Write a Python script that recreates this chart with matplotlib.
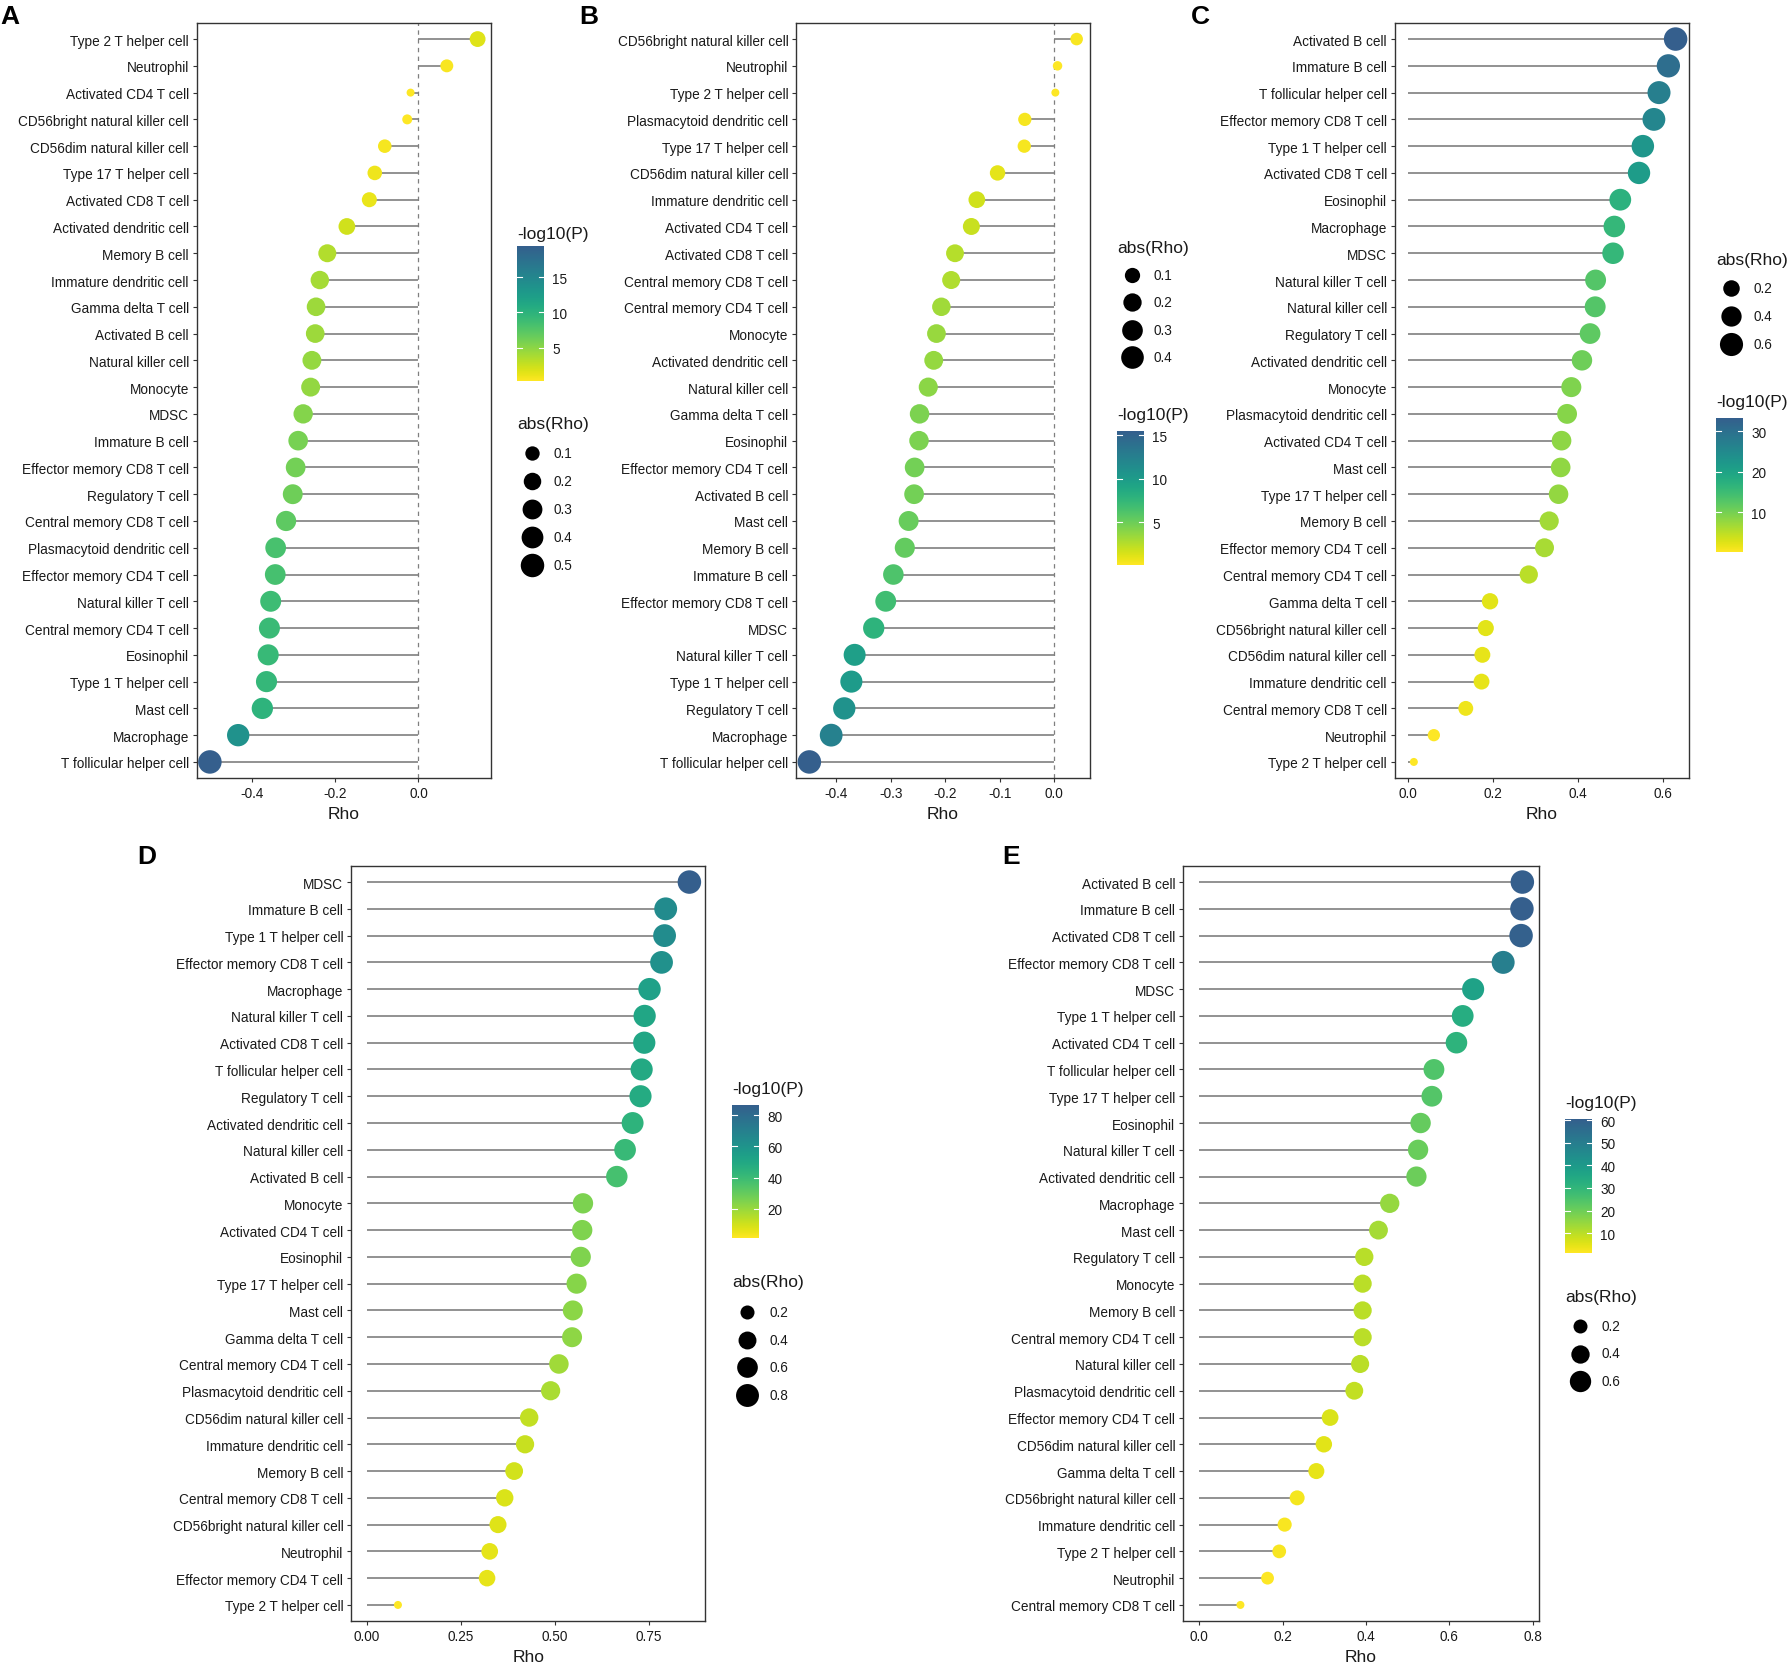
import numpy as np
import matplotlib
matplotlib.use("Agg")
import matplotlib.pyplot as plt
from matplotlib.colors import ListedColormap, Normalize

plt.rcParams['font.family'] = ['Liberation Sans', 'DejaVu Sans']
plt.rcParams['axes.unicode_minus'] = False

# ---------------- data ----------------
# panel A
names_a = ["Type 2 T helper cell", "Neutrophil", "Activated CD4 T cell", "CD56bright natural killer cell",
           "CD56dim natural killer cell", "Type 17 T helper cell", "Activated CD8 T cell",
           "Activated dendritic cell", "Memory B cell", "Immature dendritic cell", "Gamma delta T cell",
           "Activated B cell", "Natural killer cell", "Monocyte", "MDSC", "Immature B cell",
           "Effector memory CD8 T cell", "Regulatory T cell", "Central memory CD8 T cell",
           "Plasmacytoid dendritic cell", "Effector memory CD4 T cell", "Natural killer T cell",
           "Central memory CD4 T cell", "Eosinophil", "Type 1 T helper cell", "Mast cell",
           "Macrophage", "T follicular helper cell"]
rho_a = [0.142, 0.068, -0.019, -0.027, -0.081, -0.105, -0.118, -0.172, -0.219, -0.237, -0.246,
         -0.248, -0.256, -0.259, -0.277, -0.289, -0.295, -0.302, -0.318, -0.343, -0.344, -0.355,
         -0.358, -0.361, -0.365, -0.375, -0.433, -0.501]
logp_a = [1.66, 0.56, 0.30, 0.35, 0.71, 1.03, 1.24, 2.28, 3.47, 4.02, 4.29, 4.35, 4.63, 4.72,
          5.38, 5.85, 6.09, 6.38, 7.08, 8.26, 8.30, 8.89, 9.05, 9.19, 9.41, 9.97, 13.75, 19.4]

# panel B
names_b = ["CD56bright natural killer cell", "Neutrophil", "Type 2 T helper cell",
           "Plasmacytoid dendritic cell", "Type 17 T helper cell", "CD56dim natural killer cell",
           "Immature dendritic cell", "Activated CD4 T cell", "Activated CD8 T cell",
           "Central memory CD8 T cell", "Central memory CD4 T cell", "Monocyte",
           "Activated dendritic cell", "Natural killer cell", "Gamma delta T cell", "Eosinophil",
           "Effector memory CD4 T cell", "Activated B cell", "Mast cell", "Memory B cell",
           "Immature B cell", "Effector memory CD8 T cell", "MDSC", "Natural killer T cell",
           "Type 1 T helper cell", "Regulatory T cell", "Macrophage", "T follicular helper cell"]
rho_b = [0.041, 0.006, 0.002, -0.054, -0.055, -0.104, -0.142, -0.152, -0.182, -0.189, -0.207,
         -0.216, -0.221, -0.231, -0.247, -0.248, -0.256, -0.257, -0.267, -0.274, -0.295, -0.309,
         -0.331, -0.366, -0.372, -0.385, -0.409, -0.449]
logp_b = [0.30, 0.13, 0.10, 0.42, 0.43, 1.05, 1.70, 1.91, 2.58, 2.76, 3.24, 3.48, 3.63, 3.95,
          4.46, 4.48, 4.77, 4.80, 5.16, 5.42, 6.27, 6.88, 7.92, 9.76, 10.12, 10.9, 12.47, 15.5]

# panel C
names_c = ["Activated B cell", "Immature B cell", "T follicular helper cell", "Effector memory CD8 T cell",
           "Type 1 T helper cell", "Activated CD8 T cell", "Eosinophil", "Macrophage", "MDSC",
           "Natural killer T cell", "Natural killer cell", "Regulatory T cell", "Activated dendritic cell",
           "Monocyte", "Plasmacytoid dendritic cell", "Activated CD4 T cell", "Mast cell",
           "Type 17 T helper cell", "Memory B cell", "Effector memory CD4 T cell",
           "Central memory CD4 T cell", "Gamma delta T cell", "CD56bright natural killer cell",
           "CD56dim natural killer cell", "Immature dendritic cell", "Central memory CD8 T cell",
           "Neutrophil", "Type 2 T helper cell"]
rho_c = [0.629, 0.612, 0.590, 0.578, 0.552, 0.543, 0.499, 0.485, 0.482, 0.441, 0.440, 0.428,
         0.409, 0.384, 0.374, 0.361, 0.359, 0.354, 0.332, 0.321, 0.284, 0.193, 0.183, 0.175,
         0.173, 0.136, 0.061, 0.014]
logp_c = [33.3, 30.55, 27.35, 25.75, 22.6, 21.6, 17.3, 16.1, 15.87, 12.83, 12.77, 11.96, 10.79,
          9.39, 8.85, 8.22, 8.12, 7.89, 6.9, 6.46, 5.05, 2.51, 2.29, 2.12, 2.08, 1.41, 0.44, 0.2]

# panel D
names_d = ["MDSC", "Immature B cell", "Type 1 T helper cell", "Effector memory CD8 T cell", "Macrophage",
           "Natural killer T cell", "Activated CD8 T cell", "T follicular helper cell", "Regulatory T cell",
           "Activated dendritic cell", "Natural killer cell", "Activated B cell", "Monocyte",
           "Activated CD4 T cell", "Eosinophil", "Type 17 T helper cell", "Mast cell", "Gamma delta T cell",
           "Central memory CD4 T cell", "Plasmacytoid dendritic cell", "CD56dim natural killer cell",
           "Immature dendritic cell", "Memory B cell", "Central memory CD8 T cell",
           "CD56bright natural killer cell", "Neutrophil", "Effector memory CD4 T cell",
           "Type 2 T helper cell"]
rho_d = [0.857, 0.794, 0.791, 0.783, 0.751, 0.738, 0.737, 0.730, 0.727, 0.706, 0.686, 0.664,
         0.574, 0.572, 0.568, 0.557, 0.547, 0.545, 0.510, 0.488, 0.431, 0.420, 0.391, 0.366,
         0.348, 0.326, 0.319, 0.082]
logp_d = [86.4, 64.6, 63.8, 61.6, 53.7, 50.9, 50.7, 49.2, 48.6, 44.5, 40.9, 37.3, 25.4, 25.1,
          24.7, 23.5, 22.4, 22.2, 18.9, 16.9, 12.6, 11.8, 9.9, 8.5, 7.5, 6.4, 6.1, 1.3]

# panel E
names_e = ["Activated B cell", "Immature B cell", "Activated CD8 T cell", "Effector memory CD8 T cell",
           "MDSC", "Type 1 T helper cell", "Activated CD4 T cell", "T follicular helper cell",
           "Type 17 T helper cell", "Eosinophil", "Natural killer T cell", "Activated dendritic cell",
           "Macrophage", "Mast cell", "Regulatory T cell", "Monocyte", "Memory B cell",
           "Central memory CD4 T cell", "Natural killer cell", "Plasmacytoid dendritic cell",
           "Effector memory CD4 T cell", "CD56dim natural killer cell", "Gamma delta T cell",
           "CD56bright natural killer cell", "Immature dendritic cell", "Type 2 T helper cell",
           "Neutrophil", "Central memory CD8 T cell"]
rho_e = [0.775, 0.774, 0.772, 0.729, 0.657, 0.632, 0.617, 0.563, 0.558, 0.531, 0.525, 0.521,
         0.457, 0.430, 0.396, 0.392, 0.392, 0.392, 0.386, 0.372, 0.314, 0.299, 0.281, 0.235,
         0.205, 0.192, 0.164, 0.099]
logp_e = [60.5, 60.3, 59.7, 49.8, 36.9, 33.2, 31.1, 24.6, 24.0, 21.2, 20.6, 20.2, 14.7, 12.7,
          10.4, 10.2, 10.2, 10.2, 9.8, 9.0, 5.96, 5.3, 4.5, 2.8, 2.2, 1.9, 1.6, 1.2]

# ---------------- figure ----------------
W, H = 1788, 1665
fig = plt.figure(figsize=(W / 100, H / 100), dpi=100)

cmap = ListedColormap(plt.get_cmap('viridis')(np.linspace(1.0, 0.3, 256)))
TXT = '#1a1a1a'
FRAME = '#333333'
SEG = '#7f7f7f'

# overlay axes in pixel units for letters and legends
lax = fig.add_axes([0, 0, 1, 1], zorder=5)
lax.set_xlim(0, W)
lax.set_ylim(H, 0)
lax.axis('off')
lax.patch.set_alpha(0)


def box(l, t, r, b):
    return [l / W, 1 - b / H, (r - l) / W, (b - t) / H]


def marker_area(v, lo, hi):
    # ggplot-like area scale: size 1..6
    size = 1 + 5 * np.sqrt(np.clip((np.asarray(v) - lo) / (hi - lo), 0, None))
    d_px = 4.9 + 3.1 * size
    return (d_px * 0.72) ** 2


def panel(letter, names, rho, logp, frame, letter_xy, xticks, xfmt, cb_ticks,
          size_breaks, lx, cb_pos, sz_pos, dashed):
    rho = np.array(rho)
    logp = np.array(logp)
    n = len(names)
    y = np.arange(n)[::-1]
    arho = np.abs(rho)
    lo_s, hi_s = arho.min(), arho.max()
    norm = Normalize(logp.min(), logp.max())

    ax = fig.add_axes(box(*frame))
    if dashed:
        ax.axvline(0, color=SEG, ls=(0, (3.5, 3.5)), lw=0.9, zorder=0)
    ax.hlines(y, 0, rho, color=SEG, lw=1.2, zorder=1)
    ax.scatter(rho, y, s=marker_area(arho, lo_s, hi_s), c=logp, cmap=cmap, norm=norm,
               linewidths=0, zorder=3)

    lo = min(rho.min(), 0)
    hi = max(rho.max(), 0)
    pad = 0.05 * (hi - lo)
    ax.set_xlim(lo - pad, hi + pad)
    ax.set_ylim(-0.6, n - 0.4)
    ax.set_yticks(y)
    ax.set_yticklabels(names)
    ax.set_xticks(xticks)
    ax.set_xticklabels([xfmt.format(t) for t in xticks])
    ax.set_xlabel('Rho', fontsize=12.5, color=TXT, labelpad=4.5)
    ax.tick_params(direction='out', length=3, width=0.8, color=FRAME, labelsize=9.8,
                   labelcolor=TXT, pad=2.5)
    for sp in ax.spines.values():
        sp.set_color(FRAME)
        sp.set_linewidth(1.0)

    lax.text(letter_xy[0], letter_xy[1], letter, fontsize=19, fontweight='bold',
             va='baseline', ha='left', color='black')

    # colour bar
    ct, bt, bb = cb_pos
    lax.text(lx, ct, '-log10(P)', fontsize=12.5, va='center', ha='left', color=TXT)
    cax = fig.add_axes(box(lx, bt, lx + 27, bb))
    vmin, vmax = logp.min(), logp.max()
    grad = np.linspace(vmin, vmax, 256).reshape(-1, 1)
    cax.imshow(grad, aspect='auto', cmap=cmap, norm=norm, origin='lower',
               extent=[0, 1, vmin, vmax])
    cax.set_xlim(0, 1)
    cax.set_ylim(vmin, vmax)
    cax.set_xticks([])
    cax.yaxis.tick_right()
    cax.set_yticks(cb_ticks)
    cax.set_yticklabels([str(t) for t in cb_ticks])
    cax.tick_params(length=0, pad=6, labelsize=9.8, labelcolor=TXT)
    for sp in cax.spines.values():
        sp.set_visible(False)
    for t in cb_ticks:
        cax.plot([0, 0.2], [t, t], color='white', lw=0.8)
        cax.plot([0.8, 1], [t, t], color='white', lw=0.8)

    # size legend
    st, fy, step = sz_pos
    lax.text(lx, st, 'abs(Rho)', fontsize=12.5, va='center', ha='left', color=TXT)
    for i, b in enumerate(size_breaks):
        yy = fy + i * step
        lax.scatter(lx + 14.5, yy, s=marker_area(b, lo_s, hi_s), color='black', linewidths=0)
        lax.text(lx + 37, yy, f'{b:.1f}', fontsize=9.8, va='center', ha='left', color=TXT)


panel('A', names_a, rho_a, logp_a, (196.5, 24, 491, 779), (0, 24),
      [-0.4, -0.2, 0.0], '{:.1f}', [5, 10, 15], [0.1, 0.2, 0.3, 0.4, 0.5],
      517, (234, 247, 382), (425, 454, 27.9), True)
panel('B', names_b, rho_b, logp_b, (796, 24, 1090, 779), (579, 24),
      [-0.4, -0.3, -0.2, -0.1, 0.0], '{:.1f}', [5, 10, 15], [0.1, 0.2, 0.3, 0.4],
      1117, (416, 432, 566), (248, 276, 27.3), True)
panel('C', names_c, rho_c, logp_c, (1394.5, 24, 1689, 779), (1191, 24),
      [0.0, 0.2, 0.4, 0.6], '{:.1f}', [10, 20, 30], [0.2, 0.4, 0.6],
      1716, (403, 419, 553), (260, 289, 28), False)
panel('D', names_d, rho_d, logp_d, (351, 867, 705.5, 1622), (137, 864),
      [0.0, 0.25, 0.5, 0.75], '{:.2f}', [20, 40, 60, 80], [0.2, 0.4, 0.6, 0.8],
      732, (1090, 1106, 1239), (1283, 1313, 27.6), False)
panel('E', names_e, rho_e, logp_e, (1183, 867, 1538.5, 1622), (1002, 864),
      [0.0, 0.2, 0.4, 0.6, 0.8], '{:.1f}', [10, 20, 30, 40, 50, 60], [0.2, 0.4, 0.6],
      1565, (1104, 1120, 1254), (1298, 1327, 27.5), False)

fig.savefig('out.png', dpi=100)
